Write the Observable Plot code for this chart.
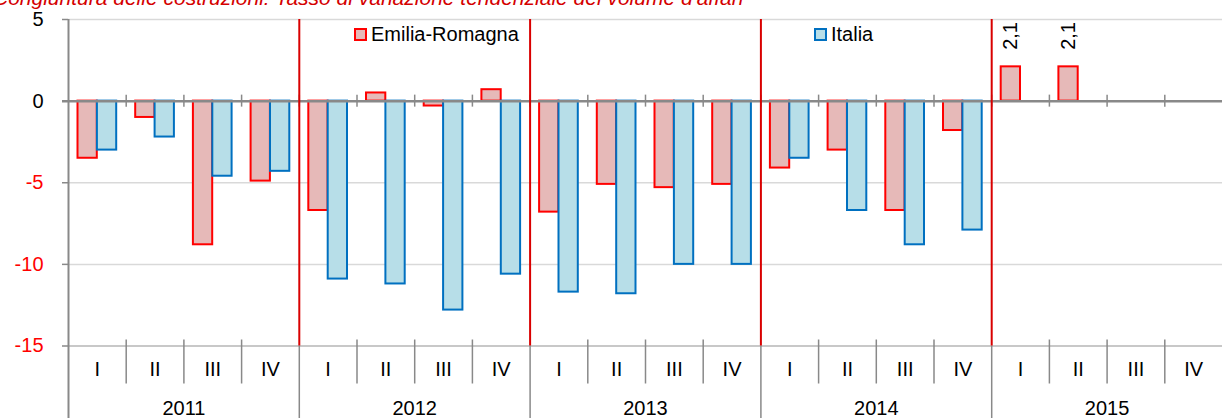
<!DOCTYPE html>
<html>
<head>
<meta charset="utf-8">
<script src="https://cdn.jsdelivr.net/npm/d3@7"></script>
<script src="https://cdn.jsdelivr.net/npm/@observablehq/plot@0.6"></script>
<style>
  html, body { margin: 0; padding: 0; background: #fff; overflow: hidden; }
  #wrap { position: relative; width: 1222px; height: 418px; font-family: "Liberation Sans", Arial, sans-serif; }
  #title { position: absolute; left: -7px; top: -14px; font-size: 21px; font-style: italic; color: #d40000; white-space: nowrap; }
  .leg { position: absolute; top: 23px; font-size: 20px; color: #000; white-space: nowrap; display: flex; align-items: center; }
  .sw { width: 9px; height: 9px; border: 2px solid; margin-right: 4px; }
  svg { display: block; }
</style>
</head>
<body>
<div id="wrap">
  <div id="chart"></div>
  <div id="title"></div>
  <div class="leg" id="legER" style="left:354px"><span class="sw" id="swER"></span><span id="lbER"></span></div>
  <div class="leg" id="legIT" style="left:814px"><span class="sw" id="swIT"></span><span id="lbIT"></span></div>
</div>
<script>
const titleText = "Congiuntura delle costruzioni: Tasso di variazione tendenziale del volume d'affari";
const years = ["2011", "2012", "2013", "2014", "2015"];
const quarters = ["I", "II", "III", "IV"];
const seriesNames = ["Emilia-Romagna", "Italia"];
const emiliaRomagna = [-3.5, -1.0, -8.8, -4.9,  -6.7, 0.5, -0.3, 0.7,  -6.8, -5.1, -5.3, -5.1,  -4.1, -3.0, -6.7, -1.8,  2.1, 2.1, null, null];
const italia = [-3.0, -2.2, -4.6, -4.3,  -10.9, -11.2, -12.8, -10.6,  -11.7, -11.8, -10.0, -10.0,  -3.5, -6.7, -8.8, -7.9,  null, null, null, null];
const yTicks = [5, 0, -5, -10, -15];

const ER_FILL = "#e6b9b8", ER_STROKE = "#ff0000";
const IT_FILL = "#b7dee8", IT_STROKE = "#0070c0";
const GRID = "#d9d9d9", AXIS = "#898989", YEARLINE = "#d90000";

document.getElementById("title").textContent = titleText;
document.getElementById("lbER").textContent = seriesNames[0];
document.getElementById("lbIT").textContent = seriesNames[1];
Object.assign(document.getElementById("swER").style, {background: ER_FILL, borderColor: ER_STROKE});
Object.assign(document.getElementById("swIT").style, {background: IT_FILL, borderColor: IT_STROKE});

const rows = emiliaRomagna.map((v, i) => ({
  i, year: years[Math.floor(i / quarters.length)], q: quarters[i % quarters.length], er: v, it: italia[i]
}));
const nQ = rows.length;
const qBoundaries = d3.range(1, nQ).filter(b => b % 4 !== 0);
const yBoundaries = d3.range(4, nQ, 4);
const yearRows = years.map((y, k) => ({year: y, mid: k * 4 + 2}));
const fmt = v => String(v).replace(".", ",");

const chart = Plot.plot({
  width: 1222,
  height: 418,
  marginLeft: 68,
  marginRight: 0,
  marginTop: 19,
  marginBottom: 72.5,
  style: {fontFamily: "'Liberation Sans', Arial, sans-serif", background: "#fff"},
  x: {type: "linear", domain: [0, nQ], axis: null},
  y: {domain: [-15, 5], axis: null},
  marks: [
    Plot.ruleY(yTicks.filter(t => t !== 0), {y: d => d, stroke: GRID, strokeWidth: 1.5}),
    Plot.ruleY(yTicks, {y: d => d, x1: 0, x2: 0, insetLeft: -6, stroke: AXIS, strokeWidth: 1.5}),
    Plot.text(yTicks, {y: d => d, frameAnchor: "left", dx: -25, textAnchor: "end", fontSize: 20,
      fill: d => d < 0 ? "#ff0000" : "#000000"}),
    Plot.rect(rows.filter(d => d.er != null), {x1: d => d.i, x2: d => d.i + 1, y1: 0, y2: "er",
      fill: ER_FILL, stroke: ER_STROKE, strokeWidth: 2, insetLeft: 9.5, insetRight: 28.9}),
    Plot.rect(rows.filter(d => d.it != null), {x1: d => d.i, x2: d => d.i + 1, y1: 0, y2: "it",
      fill: IT_FILL, stroke: IT_STROKE, strokeWidth: 2, insetLeft: 28.9, insetRight: 9.5}),
    Plot.ruleY([0], {y: d => d, x1: 0, x2: nQ, insetLeft: -6, stroke: AXIS, strokeWidth: 2.5}),
    Plot.ruleX(d3.range(1, nQ), {x: d => d, y1: 0, y2: 0, insetTop: -6, insetBottom: -6, stroke: AXIS, strokeWidth: 1.5}),
    Plot.ruleY([-15], {y: d => d, stroke: "#bfbfbf", strokeWidth: 1.5}),
    Plot.ruleX([0], {x: d => d, y1: 5, y2: -15, insetBottom: -80, stroke: AXIS, strokeWidth: 2}),
    Plot.ruleX(qBoundaries, {x: d => d, y1: -15, y2: -15, insetTop: -6, insetBottom: -38, stroke: AXIS, strokeWidth: 1.5}),
    Plot.ruleX(yBoundaries, {x: d => d, y1: -15, y2: -15, insetBottom: -80, stroke: AXIS, strokeWidth: 1.5}),
    Plot.ruleX(yBoundaries, {x: d => d, y1: 5, y2: -15, stroke: YEARLINE, strokeWidth: 2}),
    Plot.text(rows, {x: d => d.i + 0.5, text: "q", frameAnchor: "bottom", dy: 30, fontSize: 20, fill: "#000"}),
    Plot.text(yearRows, {x: "mid", text: "year", frameAnchor: "bottom", dy: 69, fontSize: 20, fill: "#000"}),
    Plot.text(rows.filter(d => d.year === "2015" && d.er != null), {x: d => d.i + 0.5, y: "er", text: d => fmt(d.er),
      rotate: -90, textAnchor: "start", dy: -17, dx: -9.7, fontSize: 20, fill: "#000"})
  ]
});
document.getElementById("chart").appendChild(chart);
</script>
</body>
</html>
